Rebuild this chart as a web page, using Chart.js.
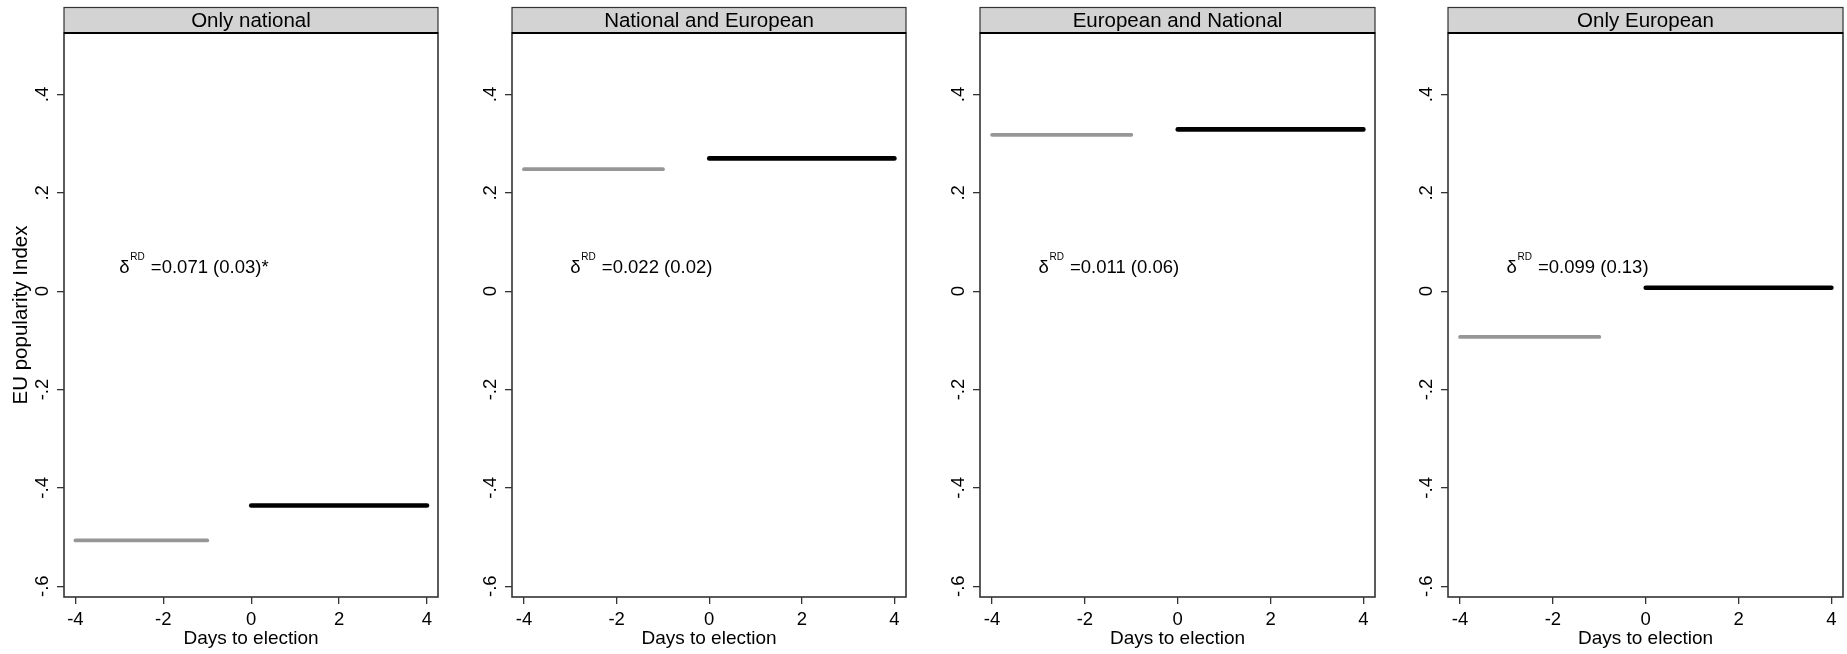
<!DOCTYPE html>
<html>
<head>
<meta charset="utf-8">
<script src="https://cdn.jsdelivr.net/npm/chart.js@4.4.0/dist/chart.umd.min.js"></script>
<style>
  body { margin: 0; background: #fff; }
  #wrap { position: relative; width: 1847px; height: 654px; }
  canvas { position: absolute; top: 0; }
</style>
</head>
<body>
<div id="wrap">
  <canvas id="p0"></canvas>
  <canvas id="p1"></canvas>
  <canvas id="p2"></canvas>
  <canvas id="p3"></canvas>
</div>
<script>
// data
const panelTitles = ["Only national", "National and European", "European and National", "Only European"];
const daysBefore = [-4, -1];
const daysAfter = [0, 4];
const meanBefore = [-0.507, 0.248, 0.318, -0.093];
const meanAfter = [-0.436, 0.270, 0.329, 0.007];
const rdLabels = ["=0.071 (0.03)*", "=0.022 (0.02)", "=0.011 (0.06)", "=0.099 (0.13)"];
const xTicks = [-4, -2, 0, 2, 4];
const yTicks = [-0.6, -0.4, -0.2, 0, 0.2, 0.4];
const yTickLabels = ["-.6", "-.4", "-.2", "0", ".2", ".4"];

const FONT = '"Liberation Sans", Arial, sans-serif';
const AXIS = "#333333";

// canvas placement: [left, width] for each panel
const panelBoxes = [[0, 442], [448, 462], [916, 463], [1384, 463]];

const panelDecor = {
  id: "panelDecor",
  afterDraw(chart, args, opts) {
    const ctx = chart.ctx;
    const a = chart.chartArea;
    const sx = chart.scales.x;
    const sy = chart.scales.y;
    ctx.save();
    // title strip
    ctx.fillStyle = "#d3d3d3";
    ctx.fillRect(a.left, 7, a.right - a.left, a.top - 7);
    ctx.strokeStyle = AXIS;
    ctx.lineWidth = 1.2;
    ctx.strokeRect(a.left, 7.5, a.right - a.left, a.top - 7.5);
    ctx.fillStyle = "#000";
    ctx.font = "20.5px " + FONT;
    ctx.textAlign = "center";
    ctx.textBaseline = "middle";
    ctx.fillText(opts.title, (a.left + a.right) / 2, (7 + a.top) / 2 + 1);
    // plot frame
    ctx.strokeStyle = AXIS;
    ctx.lineWidth = 1.6;
    ctx.strokeRect(a.left, a.top, a.right - a.left, a.bottom - a.top);
    ctx.strokeStyle = "#000";
    ctx.lineWidth = 2;
    ctx.beginPath();
    ctx.moveTo(a.left, a.top);
    ctx.lineTo(a.right, a.top);
    ctx.stroke();
    // RD estimate label
    let x = sx.getPixelForValue(-3);
    let y = sy.getPixelForValue(0.047);
    ctx.textAlign = "left";
    ctx.textBaseline = "middle";
    ctx.font = "18.5px " + FONT;
    ctx.fillText("δ", x, y);
    ctx.font = "10px " + FONT;
    ctx.fillText("RD", x + 11, y - 11);
    ctx.font = "18.5px " + FONT;
    ctx.fillText(opts.label, x + 31.5, y);
    ctx.restore();
  }
};

function makePanel(i) {
  let canvas = document.getElementById("p" + i);
  canvas.width = panelBoxes[i][1];
  canvas.height = 654;
  canvas.style.left = panelBoxes[i][0] + "px";

  new Chart(canvas, {
    type: "scatter",
    data: {
      datasets: [
        {
          data: daysBefore.map((d) => ({ x: d, y: meanBefore[i] })),
          showLine: true,
          borderColor: "#969696",
          borderWidth: 3.8,
          borderCapStyle: "round",
          pointRadius: 0,
        },
        {
          data: daysAfter.map((d) => ({ x: d, y: meanAfter[i] })),
          showLine: true,
          borderColor: "#000000",
          borderWidth: 4.6,
          borderCapStyle: "round",
          pointRadius: 0,
        },
      ],
    },
    options: {
      responsive: false,
      animation: false,
      events: [],
      layout: { padding: { top: 33, right: 4, left: 0, bottom: 0 } },
      plugins: {
        legend: { display: false },
        tooltip: { enabled: false },
        panelDecor: { title: panelTitles[i], label: rdLabels[i] },
      },
      scales: {
        x: {
          type: "linear",
          min: -4.26,
          max: 4.25,
          afterBuildTicks: (s) => { s.ticks = xTicks.map((v) => ({ value: v })); },
          afterFit: (s) => { s.height = 57; },
          grid: { display: true, drawOnChartArea: false, drawTicks: true, tickLength: 7, color: AXIS, lineWidth: 1.3 },
          border: { display: false },
          ticks: { color: "#000", font: { family: FONT, size: 18.5 }, padding: 5, maxRotation: 0 },
          title: { display: true, text: "Days to election", color: "#000", font: { family: FONT, size: 19 }, padding: { top: 0, bottom: 4 } },
        },
        y: {
          type: "linear",
          min: -0.622,
          max: 0.525,
          afterBuildTicks: (s) => { s.ticks = yTicks.map((v) => ({ value: v })); },
          afterFit: (s) => { s.width = 64; },
          grid: { display: true, drawOnChartArea: false, drawTicks: true, tickLength: 7, color: AXIS, lineWidth: 1.3 },
          border: { display: false },
          ticks: {
            color: "#000",
            font: { family: FONT, size: 18.5 },
            padding: 3,
            minRotation: 90,
            maxRotation: 90,
            crossAlign: "center",
            callback: (v, idx) => yTickLabels[idx],
          },
          title: { display: i == 0, text: "EU popularity Index", color: "#000", font: { family: FONT, size: 20.5 }, padding: { top: 9, bottom: 0 } },
        },
      },
    },
    plugins: [panelDecor],
  });
}

for (let i = 0; i < panelTitles.length; i++) {
  makePanel(i);
}
</script>
</body>
</html>
